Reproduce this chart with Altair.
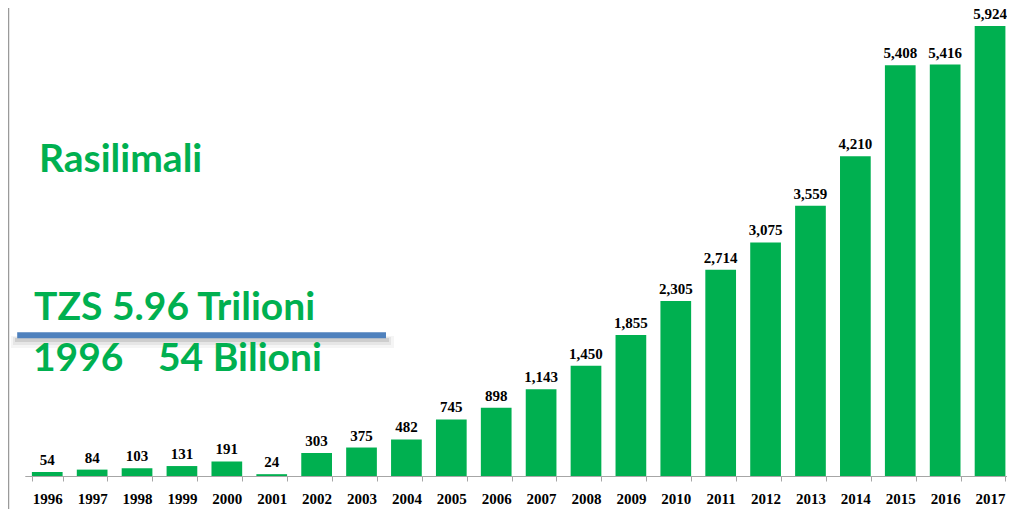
import altair as alt
import pandas as pd

years = ["1996", "1997", "1998", "1999", "2000", "2001", "2002", "2003", "2004", "2005", "2006",
         "2007", "2008", "2009", "2010", "2011", "2012", "2013", "2014", "2015", "2016", "2017"]
values = [54, 84, 103, 131, 191, 24, 303, 375, 482, 745, 898,
          1143, 1450, 1855, 2305, 2714, 3075, 3559, 4210, 5408, 5416, 5924]

title_text = ["Rasilimali"]
line1_text = ["TZS 5.96 Trilioni"]
line2_year = ["1996"]
line2_text = ["54 Bilioni"]

GREEN = "#00B050"

df = pd.DataFrame({"year": years, "value": values})

x_enc = alt.X(
    "year:N",
    sort=years,
    scale=alt.Scale(range=[16.8, 1004.5], paddingInner=0.316, paddingOuter=0.158),
    axis=alt.Axis(
        title=None, labelAngle=0, tickBand="extent", grid=False,
        domainColor="#a6a6a6", tickColor="#a6a6a6", tickSize=5, domainWidth=1.2,
        labelFont="Liberation Serif", labelFontWeight="bold", labelFontSize=15,
        labelColor="#000000", labelPadding=10,
    ),
)
y_enc = alt.Y("value:Q", scale=alt.Scale(domain=[0, 6161], nice=False, zero=True), axis=None)

base = alt.Chart(df).encode(x=x_enc, y=y_enc)
bars = base.mark_bar(color=GREEN, clip=False)
labels = base.mark_text(
    font="Liberation Serif", fontWeight="bold", fontSize=15, color="#000000",
    baseline="alphabetic", dy=-7,
).encode(text=alt.Text("value:Q", format=",d"))

one = pd.DataFrame({"k": [0]})

border = alt.Chart(one).mark_rule(color="#9a9a9a", strokeWidth=1.5).encode(
    x=alt.value(0.5), y=alt.value(-10), y2=alt.value(520))

shadow1 = alt.Chart(one).mark_rule(color="#000000", opacity=0.04, strokeWidth=12).encode(
    x=alt.value(3), x2=alt.value(386), y=alt.value(334))
shadow2 = alt.Chart(one).mark_rule(color="#000000", opacity=0.06, strokeWidth=8).encode(
    x=alt.value(5), x2=alt.value(383), y=alt.value(333))
shadow3 = alt.Chart(one).mark_rule(color="#000000", opacity=0.10, strokeWidth=4).encode(
    x=alt.value(7), x2=alt.value(381), y=alt.value(332))
blue = alt.Chart(one).mark_rule(color="#4F81BD", strokeWidth=6).encode(
    x=alt.value(9.2), x2=alt.value(378), y=alt.value(327.3))

def ann(txt, xv, yv):
    return alt.Chart(pd.DataFrame({"t": txt})).mark_text(
        align="left", baseline="alphabetic", font="Lato", fontWeight="bold",
        fontSize=39, color=GREEN,
    ).encode(x=alt.value(xv), y=alt.value(yv), text="t:N")

t1 = ann(title_text, 31, 164)
t2 = ann(line1_text, 26, 312)
t3 = ann(line2_year, 25, 363)
t4 = ann(line2_text, 150, 363)

chart = alt.layer(border, bars, labels, shadow1, shadow2, shadow3, blue, t1, t2, t3, t4).properties(
    width=999, height=468,
    padding={"left": 0, "top": 0, "right": 0, "bottom": 33},
    autosize=alt.AutoSizeParams(type="none"),
).configure_view(stroke=None)

chart.save("out.html", embed_options={"renderer": "svg", "actions": False})
